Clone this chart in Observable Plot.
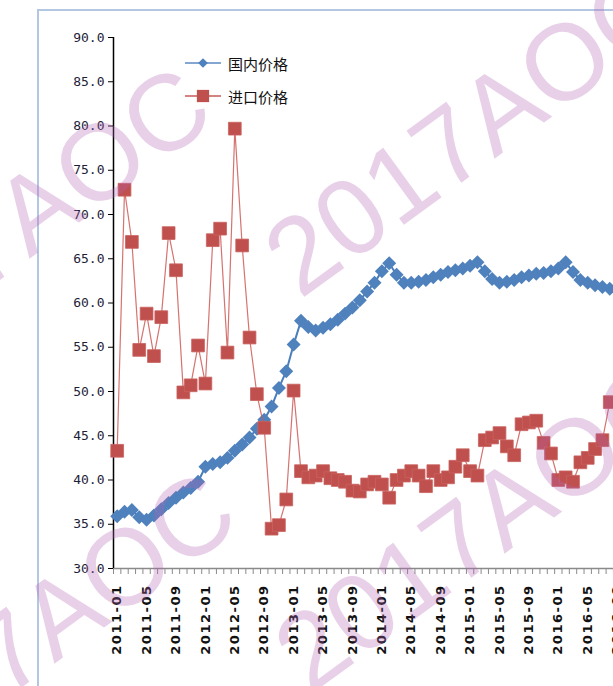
<!DOCTYPE html>
<html><head><meta charset="utf-8">
<script src="https://cdn.jsdelivr.net/npm/d3@7"></script>
<script src="https://cdn.jsdelivr.net/npm/@observablehq/plot@0.6"></script>
<style>
html,body{margin:0;padding:0;overflow:hidden;background:#fff;}
#wrap{position:relative;width:613px;height:686px;overflow:hidden;background:#fff;}
#frame{position:absolute;left:37px;top:9px;width:700px;height:700px;border-left:2px solid #b3c7e3;border-top:2px solid #b3c7e3;}
#chart{position:absolute;left:0;top:0;width:760px;height:686px;}
#chart svg{max-width:none !important;}
.lg{position:absolute;left:183px;height:20px;display:flex;align-items:center;font:15px "Noto Sans CJK SC",sans-serif;color:#111;}
.lg svg{margin-right:5px;}
#wm{position:absolute;left:0;top:0;pointer-events:none;}
</style></head><body>
<div id="wrap"><div id="frame"></div><div id="chart"></div>
<div class="lg" id="lg1" style="top:53px"></div>
<div class="lg" id="lg2" style="top:86px"></div>
<svg id="wm" width="613" height="686"></svg></div>
<script>
// month categories, 2011-01 .. 2016-09
const months = d3.range(69).map(i => `${2011 + Math.floor(i / 12)}-${String(i % 12 + 1).padStart(2, "0")}`);
const tickLabels = ["2011-01","2011-05","2011-09","2012-01","2012-05","2012-09","2013-01","2013-05","2013-09",
  "2014-01","2014-05","2014-09","2015-01","2015-05","2015-09","2016-01","2016-05","2016-09"];
const yTicks = [30,35,40,45,50,55,60,65,70,75,80,85,90];
const seriesNames = ["国内价格", "进口价格"];
// 国内价格 (domestic)
const domestic = [
  35.9,36.4,36.6,35.8,35.5,36.0,36.7,37.4,38.0,38.6,39.1,39.8,
  41.5,41.8,42.0,42.5,43.3,44.0,44.8,45.8,46.8,48.3,50.4,52.3,
  55.3,58.0,57.3,56.9,57.2,57.6,58.1,58.8,59.5,60.3,61.3,62.3,
  63.6,64.5,63.2,62.3,62.3,62.4,62.6,62.9,63.2,63.5,63.7,63.9,
  64.2,64.6,63.6,62.7,62.3,62.4,62.6,62.9,63.1,63.3,63.4,63.6,
  63.9,64.6,63.5,62.6,62.3,62.0,61.8,61.6,61.5];
// 进口价格 (imported)
const imported = [
  43.3,72.8,66.9,54.7,58.8,54.0,58.4,67.9,63.7,49.9,50.7,55.2,
  50.9,67.1,68.4,54.4,79.7,66.5,56.1,49.7,45.9,34.5,34.9,37.8,
  50.1,41.0,40.3,40.5,41.0,40.2,40.0,39.8,38.8,38.7,39.5,39.8,
  39.5,38.0,40.0,40.5,41.0,40.5,39.3,41.0,40.0,40.3,41.5,42.8,
  41.0,40.5,44.5,44.8,45.3,43.8,42.8,46.3,46.5,46.7,44.2,43.0,
  40.0,40.3,39.8,42.0,42.5,43.5,44.5,48.8];

const blue = "#4f81bd", red = "#c0504d";
const dom = domestic.map((v, i) => ({i, v}));
const imp = imported.map((v, i) => ({i, v}));

const chart = Plot.plot({
  width: 760, height: 686,
  marginLeft: 113, marginRight: 0, marginTop: 37, marginBottom: 118,
  x: {type: "linear", domain: [-0.5, 87.5]},
  y: {domain: [30, 90]},
  style: {background: "transparent", overflow: "visible", maxWidth: "none"},
  marks: [
    Plot.ruleY([30], {stroke: "#8a8a8a", strokeWidth: 1.5}),
    Plot.axisX(d3.range(-0.5, 88, 1), {tickSize: 6, tickFormat: () => "", stroke: "#8a8a8a", label: null}),
    Plot.axisX(tickLabels.map(l => months.indexOf(l)), {
      tickSize: 0, tickPadding: 16, tickRotate: -90, tickFormat: i => months[i], label: null,
      fontSize: 13, fontWeight: "bold", fontFamily: "DejaVu Sans", fill: "#111"}),
    Plot.axisY(yTicks, {tickSize: 5, tickPadding: 4, tickFormat: d => d.toFixed(1), label: null,
      fontFamily: "DejaVu Sans Mono", fontSize: 13, fill: "#1e1e38", stroke: "#000"}),
    Plot.ruleX([-0.5], {y1: 30, y2: 90, stroke: "#000", strokeWidth: 1.5}),
    Plot.line(dom, {x: "i", y: "v", stroke: "#4a7ebb", strokeWidth: 2}),
    Plot.dot(dom, {x: "i", y: "v", symbol: "diamond2", r: 6.3, fill: blue}),
    Plot.line(imp, {x: "i", y: "v", stroke: "#cc5a57", strokeWidth: 1.2, strokeOpacity: 0.85}),
    Plot.dot(imp, {x: "i", y: "v", symbol: "square", r: 7.2, fill: red, stroke: "#c9625f", strokeWidth: 0.8})
  ]
});
chart.style.maxWidth = "none";
chart.querySelectorAll('g[aria-label="x-axis tick label"] text').forEach(t => t.style.letterSpacing = "1.5px");
document.getElementById("chart").appendChild(chart);

// legend
function swatch(el, color, sym, name) {
  const s = d3.select(el).append("svg").attr("width", 40).attr("height", 20);
  s.append("line").attr("x1", 2).attr("x2", 38).attr("y1", 10).attr("y2", 10).attr("stroke", color).attr("stroke-width", 2).attr("stroke-opacity", 0.7);
  s.append("path").attr("transform", "translate(20,10)").attr("fill", color)
    .attr("d", d3.symbol(sym === "d" ? d3.symbolDiamond2 : d3.symbolSquare, sym === "d" ? 60 : 150)());
  d3.select(el).append("span").text(name);
}
swatch(document.getElementById("lg1"), blue, "d", seriesNames[0]);
swatch(document.getElementById("lg2"), red, "s", seriesNames[1]);

// watermark
const wm = d3.select("#wm");
const anchors = [[-165, 400], [300, 300], [-140, 805], [310, 695], [765, 305], [300, -100]];
anchors.forEach(([x, y]) => {
  wm.append("text").attr("transform", `translate(${x},${y}) rotate(-36)`)
    .attr("font-family", "Liberation Sans").attr("font-size", 108)
    .attr("fill", "rgb(180,100,180)").attr("fill-opacity", 0.3).text("2017AOC");
});
</script></body></html>
